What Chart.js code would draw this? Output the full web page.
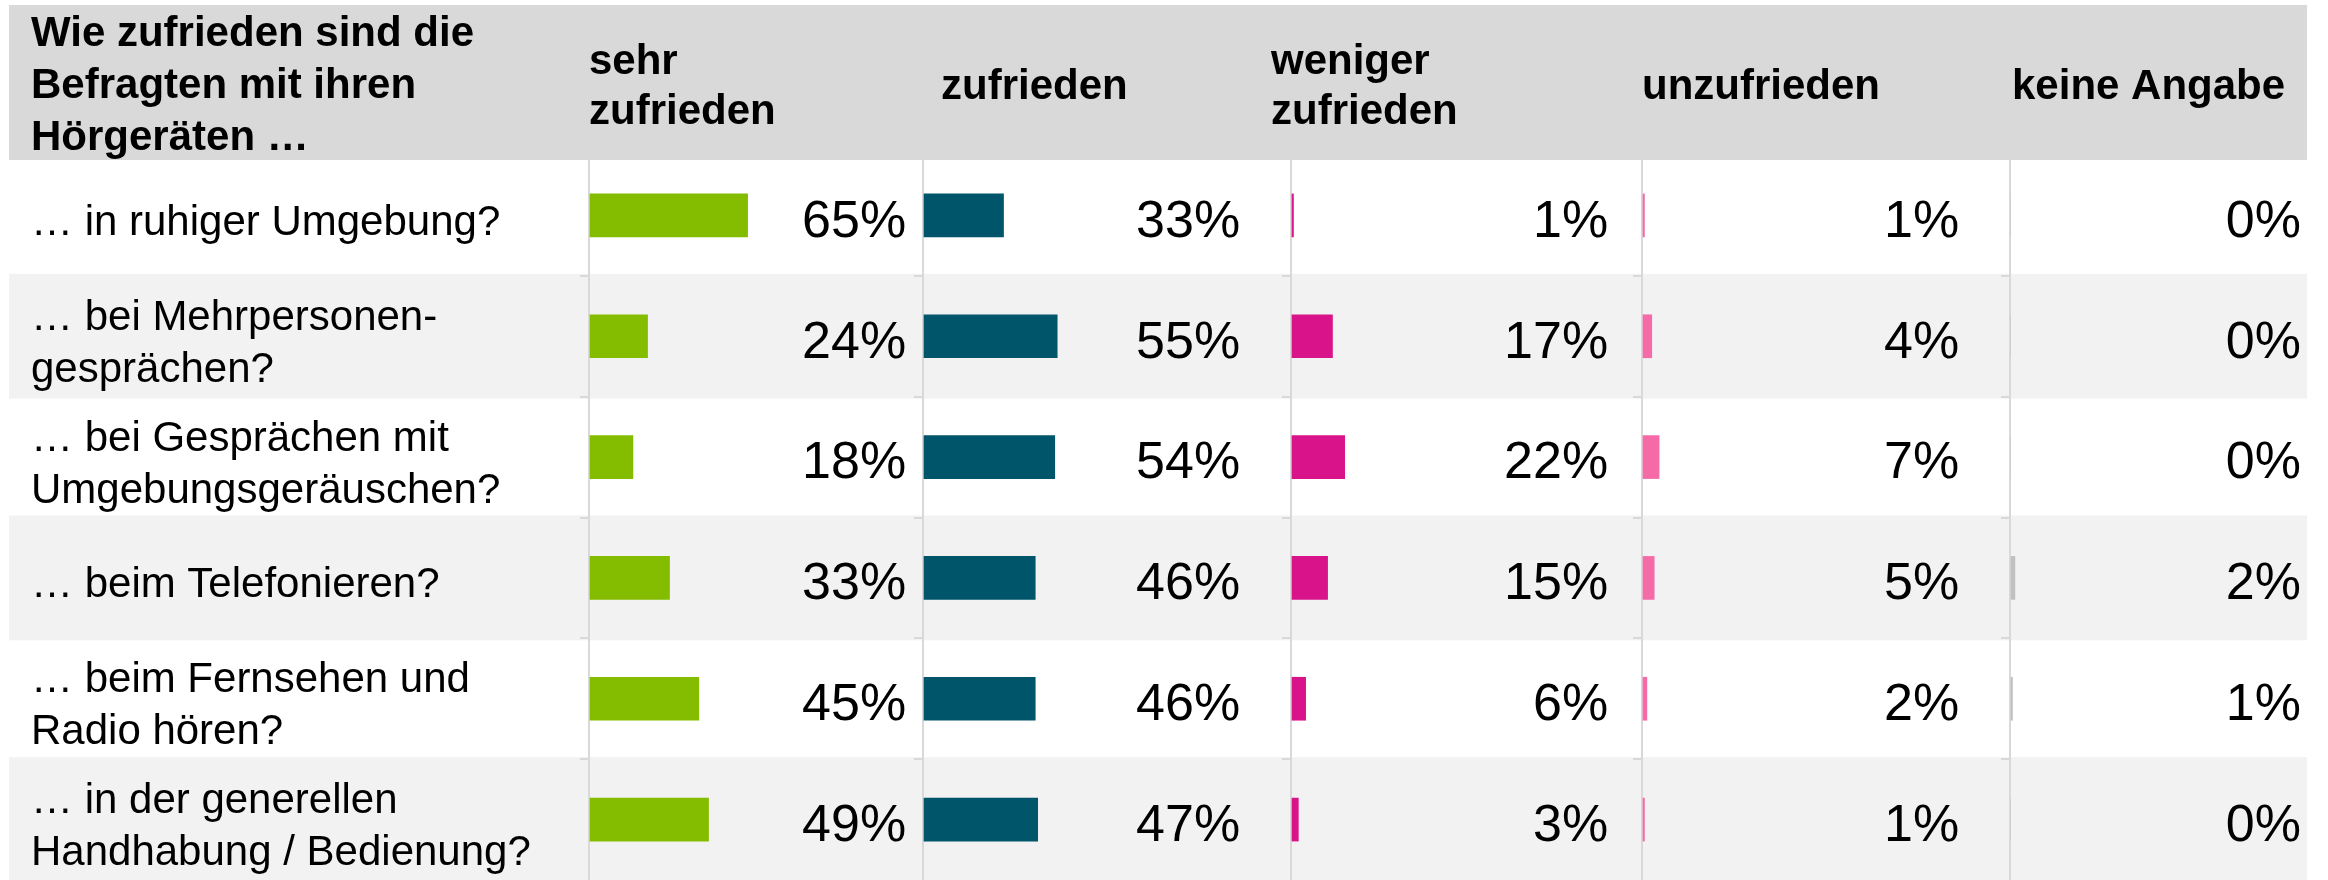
<!DOCTYPE html>
<html lang="de">
<head>
<meta charset="utf-8">
<title>Zufriedenheit mit Hörgeräten</title>
<script src="https://cdn.jsdelivr.net/npm/chart.js@4.4.1/dist/chart.umd.min.js"></script>
<style>
    html, body { margin: 0; padding: 0; background: #fff; overflow: hidden; }
    #wrap { width: 2328px; height: 880px; position: relative; }
</style>
</head>
<body>
<div id="wrap"><canvas id="chart"></canvas></div>
<script>
// Zeilen der Tabelle
const questions = [
    '… in ruhiger Umgebung?',
    ['… bei Mehrpersonen-', 'gesprächen?'],
    ['… bei Gesprächen mit', 'Umgebungsgeräuschen?'],
    '… beim Telefonieren?',
    ['… beim Fernsehen und', 'Radio hören?'],
    ['… in der generellen', 'Handhabung / Bedienung?']
];

const questionTitle = ['Wie zufrieden sind die', 'Befragten mit ihren', 'Hörgeräten …'];
const answers = [['sehr', 'zufrieden'], ['zufrieden'], ['weniger', 'zufrieden'], ['unzufrieden'], ['keine Angabe']];

// Anteile in Prozent
const sehrZufrieden    = [65, 24, 18, 33, 45, 49];
const zufrieden        = [33, 55, 54, 46, 46, 47];
const wenigerZufrieden = [1, 17, 22, 15, 6, 3];
const unzufrieden      = [1, 4, 7, 5, 2, 1];
const keineAngabe      = [0, 0, 0, 2, 1, 0];

const series = [sehrZufrieden, zufrieden, wenigerZufrieden, unzufrieden, keineAngabe];
const colors = ['#84bd00', '#00556a', '#d9148a', '#f56ba8', '#c0c0c0'];

// layout
const FONT = '"Liberation Sans", Arial, sans-serif';
const COL_WIDTHS = [334, 368, 351, 368, 299];
const PX_PER_PERCENT = 2.44;
const LABEL_AT = 130;             // where the value labels end, in % of each column axis
const HEADER_SHIFT = [0, 18, -20, 0, 2];
const TABLE_LEFT = 9;
const TABLE_RIGHT = 2307;
const GRID = '#d9d9d9';

const scales = {
    y: {
        type: 'category',
        position: 'left',
        offset: true,
        grid: { display: false },
        border: { display: false },
        ticks: {
            autoSkip: false,
            crossAlign: 'far',
            labelOffset: 8,
            color: '#000',
            font: { family: FONT, size: 42, lineHeight: 1.24 }
        },
        afterFit: (scale) => {
            scale.width = 558;
            // rows run down to the bottom edge
            scale.paddingTop = 0;
            scale.paddingBottom = 0;
        }
    }
};

series.forEach((s, i) => {
    scales['x' + i] = {
        type: 'linear',
        position: 'bottom',
        stack: 'columns',
        stackWeight: COL_WIDTHS[i],
        min: 0,
        max: COL_WIDTHS[i] / PX_PER_PERCENT,
        ticks: { display: false },
        border: { display: false },
        grid: {
            drawTicks: false,
            lineWidth: 2,
            color: (ctx) => (ctx.tick && ctx.tick.value === 0 ? GRID : 'rgba(0,0,0,0)')
        },
        afterFit: (scale) => { scale.height = 0; }
    };
});

const tablePlugin = {
    id: 'table',
    beforeDraw(chart) {
        const { ctx } = chart;
        const y = chart.scales.y;
        const step = y.getPixelForValue(1) - y.getPixelForValue(0);
        ctx.save();
        ctx.fillStyle = '#fff';
        ctx.fillRect(0, 0, chart.width, chart.height);
        ctx.fillStyle = '#f2f2f2';
        for (let i = 1; i < questions.length; i += 2) {
            const c = y.getPixelForValue(i);
            ctx.fillRect(TABLE_LEFT, c - step / 2 - 2, TABLE_RIGHT - TABLE_LEFT, step + 4);
        }
        ctx.restore();
    },
    afterDraw(chart) {
        const { ctx, chartArea } = chart;
        const y = chart.scales.y;
        ctx.save();

        // small ticks at row borders
        ctx.strokeStyle = GRID;
        ctx.lineWidth = 2;
        series.forEach((s, i) => {
            const xs = chart.scales['x' + i];
            for (let k = 1; k < questions.length; k++) {
                const yb = Math.round((y.getPixelForValue(k - 1) + y.getPixelForValue(k)) / 2);
                ctx.beginPath();
                ctx.moveTo(xs.left - 9, yb);
                ctx.lineTo(xs.left, yb);
                ctx.stroke();
            }
        });

        // header band
        ctx.fillStyle = '#d9d9d9';
        ctx.fillRect(TABLE_LEFT, 5, TABLE_RIGHT - TABLE_LEFT, 155);

        ctx.fillStyle = '#000';
        ctx.textAlign = 'left';
        ctx.textBaseline = 'alphabetic';
        ctx.font = 'bold 42px ' + FONT;
        questionTitle.forEach((line, i) => ctx.fillText(line, 31, 46 + i * 52));

        answers.forEach((lines, i) => {
            const x = chart.scales['x' + i].left + HEADER_SHIFT[i];
            const first = lines.length === 1 ? 99 : 74;
            lines.forEach((line, k) => ctx.fillText(line, x, first + k * 50));
        });

        // value labels
        ctx.font = '52px ' + FONT;
        ctx.textAlign = 'right';
        ctx.textBaseline = 'middle';
        series.forEach((data, i) => {
            const xs = chart.scales['x' + i];
            const xr = Math.min(xs.getPixelForValue(LABEL_AT), chartArea.right - 8);
            chart.getDatasetMeta(i).data.forEach((bar, j) => {
                ctx.fillText(data[j] + '%', xr, bar.y + 7);
            });
        });

        ctx.restore();
    }
};

new Chart(document.getElementById('chart'), {
    type: 'bar',
    data: {
        labels: questions,
        datasets: series.map((data, i) => ({
            label: answers[i].join(' '),
            data: data,
            xAxisID: 'x' + i,
            yAxisID: 'y',
            backgroundColor: colors[i],
            borderWidth: 0,
            barThickness: 43,
            grouped: false
        }))
    },
    options: {
        indexAxis: 'y',
        responsive: true,
        maintainAspectRatio: false,
        animation: false,
        layout: { padding: { left: 31, top: 155, right: 19, bottom: 0 } },
        scales: scales,
        plugins: {
            legend: { display: false },
            tooltip: { enabled: false }
        }
    },
    plugins: [tablePlugin]
});
</script>
</body>
</html>
